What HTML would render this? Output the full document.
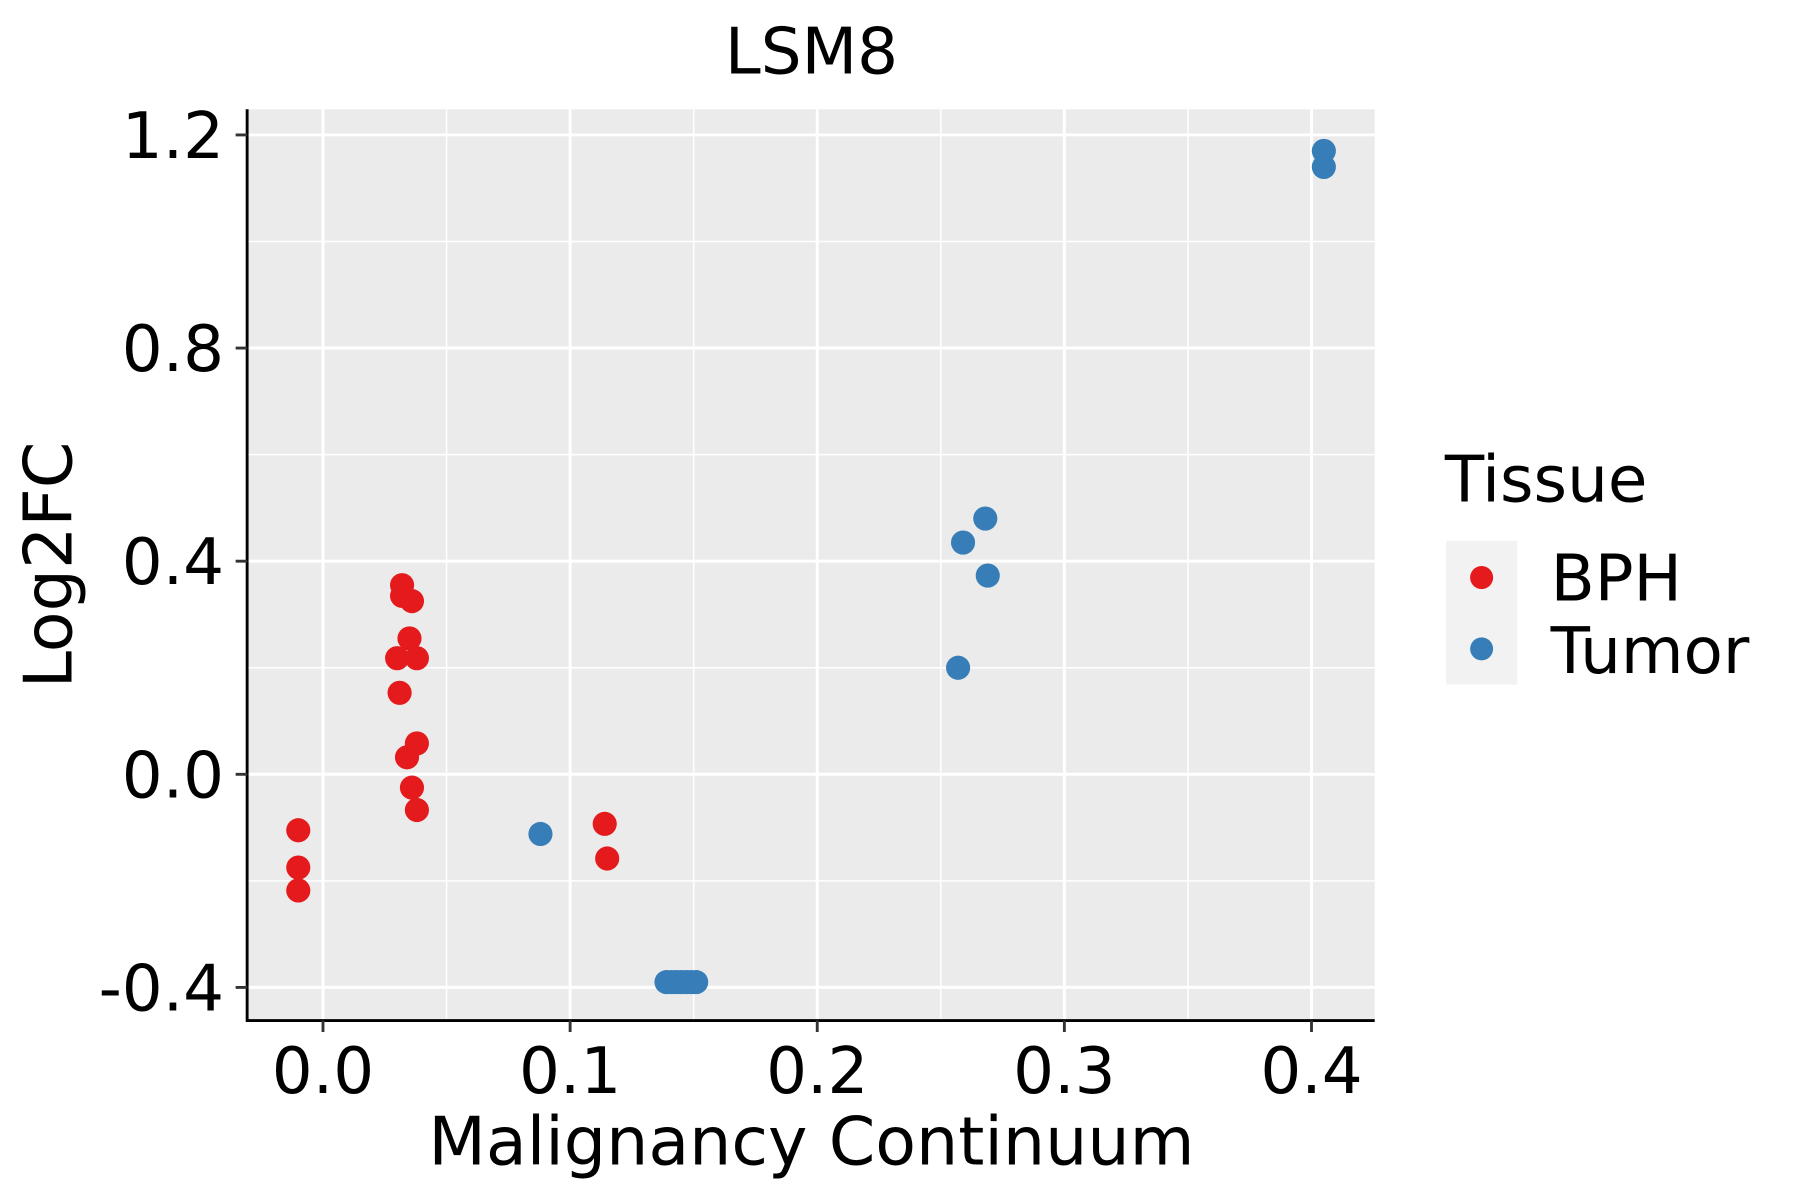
<!DOCTYPE html>
<html><head><meta charset="utf-8"><style>
html,body{margin:0;padding:0;background:#fff;}
svg{display:block;font-family:"DejaVu Sans","Liberation Sans",sans-serif;}
</style></head><body>
<svg id="chart" width="1800" height="1200" viewBox="0 0 1566 1043" preserveAspectRatio="none" xmlns="http://www.w3.org/2000/svg">
<text x="706" y="64" font-size="56" text-anchor="middle">LSM8</text>
<rect x="215" y="95" width="981" height="792" fill="#ebebeb"/>
<g id="grid"></g>
<g id="points"></g>
<line x1="215" y1="95" x2="215" y2="888" stroke="#000" stroke-width="2.5"/>
<line x1="214" y1="887" x2="1196" y2="887" stroke="#000" stroke-width="2.5"/>
<g id="ticks"></g>
<text x="706" y="1012" font-size="58" text-anchor="middle">Malignancy Continuum</text>
<text transform="translate(62,491) rotate(-90)" font-size="58" text-anchor="middle">Log2FC</text>
<text x="1257" y="436" font-size="56">Tissue</text>
<rect x="1258" y="470" width="62" height="125" fill="#f2f2f2"/>
<circle cx="1289" cy="502" r="10" fill="#e41a1c"/>
<circle cx="1289" cy="564" r="10" fill="#377eb8"/>
<text x="1349" y="522" font-size="56">BPH</text>
<text x="1349" y="585" font-size="56">Tumor</text>
</svg>
<script>
const xTicks=[0.0,0.1,0.2,0.3,0.4];
const xTickLabels=["0.0","0.1","0.2","0.3","0.4"];
const yTicks=[-0.4,0.0,0.4,0.8,1.2];
const yTickLabels=["-0.4","0.0","0.4","0.8","1.2"];
const bphX=[-0.010,-0.010,-0.010,0.032,0.032,0.036,0.035,0.030,0.038,0.031,0.038,0.034,0.036,0.038,0.114,0.115];
const bphY=[-0.105,-0.175,-0.218,0.355,0.335,0.325,0.255,0.218,0.218,0.153,0.058,0.032,-0.025,-0.067,-0.093,-0.158];
const tumorX=[0.088,0.139,0.141,0.143,0.145,0.147,0.149,0.151,0.259,0.268,0.269,0.257,0.405,0.405];
const tumorY=[-0.112,-0.39,-0.39,-0.39,-0.39,-0.39,-0.39,-0.39,0.435,0.48,0.373,0.2,1.17,1.14];
const NS="http://www.w3.org/2000/svg";
const sx=v=>281+v*2150;
const sy=v=>673-v*463.1;
function mk(tag,attrs,parent){const e=document.createElementNS(NS,tag);for(const k in attrs)e.setAttribute(k,attrs[k]);parent.appendChild(e);return e;}
const grid=document.getElementById('grid'),ticks=document.getElementById('ticks'),pts=document.getElementById('points');
for(let i=0;i<xTicks.length;i++){
  if(i<xTicks.length-1){const m=(xTicks[i]+xTicks[i+1])/2;
    const g=mk('line',{x1:sx(m),x2:sx(m),y1:95,y2:887,stroke:'#fff','stroke-width':1.3},grid);
    
    }
  const l=mk('line',{x1:sx(xTicks[i]),x2:sx(xTicks[i]),y1:95,y2:887,stroke:'#fff','stroke-width':2.6},grid);
  
  
  const t=mk('line',{x1:sx(xTicks[i]),x2:sx(xTicks[i]),y1:887,y2:897,stroke:'#333','stroke-width':2.5},ticks);
  
  
  const tx=mk('text',{x:sx(xTicks[i]),y:950,'font-size':56,'text-anchor':'middle'},ticks);tx.textContent=xTickLabels[i];
  
  
}
{const g=mk('line',{x1:sx(-0.05),x2:sx(-0.05),y1:95,y2:887,stroke:'#fff','stroke-width':1.3},grid);

}
for(let i=0;i<yTicks.length;i++){
  if(i<yTicks.length-1){const m=(yTicks[i]+yTicks[i+1])/2;
    const g=mk('line',{x1:215,x2:1196,y1:sy(m),y2:sy(m),stroke:'#fff','stroke-width':1.3},grid);
    
    }
  const l=mk('line',{x1:215,x2:1196,y1:sy(yTicks[i]),y2:sy(yTicks[i]),stroke:'#fff','stroke-width':2.6},grid);
  
  
  const t=mk('line',{x1:205,x2:215,y1:sy(yTicks[i]),y2:sy(yTicks[i]),stroke:'#333','stroke-width':2.5},ticks);
  
  
  const tx=mk('text',{x:195,y:sy(yTicks[i])+20,'font-size':56,'text-anchor':'end'},ticks);tx.textContent=yTickLabels[i];
  
  
}
for(let i=0;i<bphX.length;i++){
  const c=mk('circle',{cx:sx(bphX[i]),cy:sy(bphY[i]),r:10.5,fill:'#e41a1c'},pts);
  
  
}
for(let i=0;i<tumorX.length;i++){
  const c=mk('circle',{cx:sx(tumorX[i]),cy:sy(tumorY[i]),r:10.5,fill:'#377eb8'},pts);
  
  
}
</script>
</body></html>
